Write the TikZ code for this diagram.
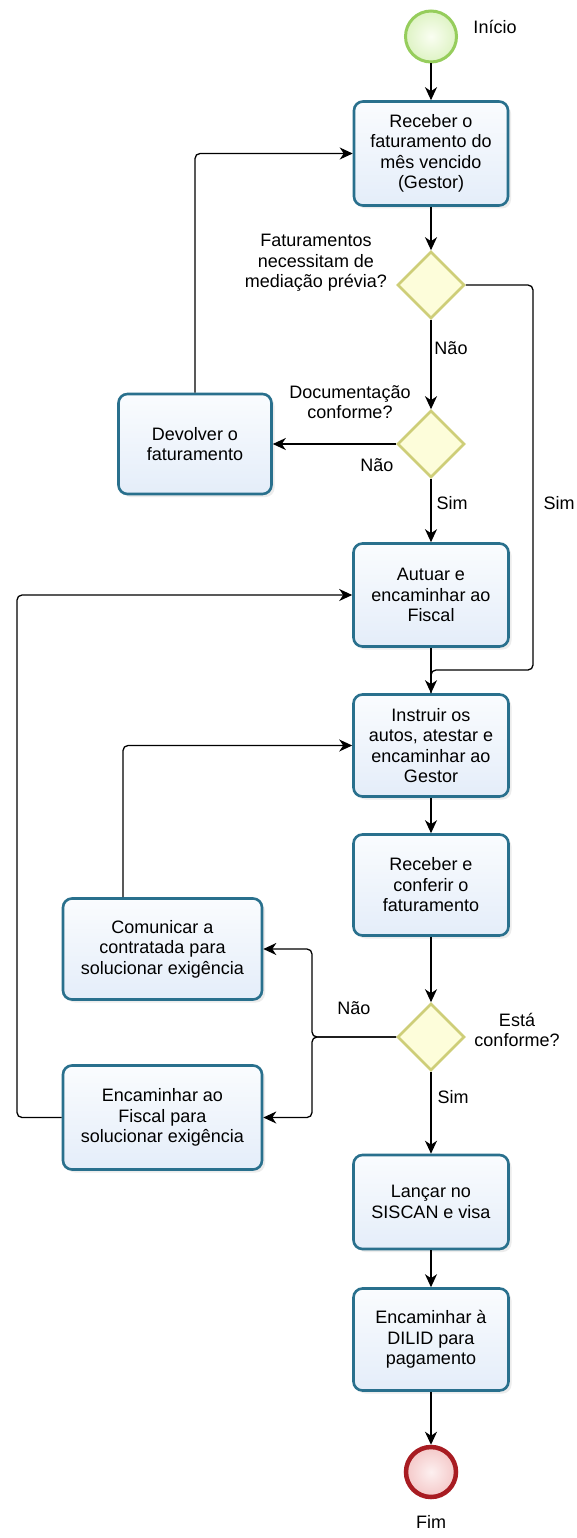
\documentclass[tikz,border=0pt]{standalone}
\usepackage{fontspec}
\setmainfont{Liberation Sans}
\usetikzlibrary{shapes.geometric,arrows.meta,shadows}
\definecolor{boxc}{RGB}{41,112,141}
\definecolor{boxtop}{RGB}{250,252,254}
\definecolor{boxbot}{RGB}{228,237,249}
\definecolor{gatec}{RGB}{206,206,120}
\definecolor{gatefill}{RGB}{253,253,218}
\definecolor{startc}{RGB}{150,205,92}
\definecolor{startin}{RGB}{250,254,242}
\definecolor{startout}{RGB}{222,243,196}
\definecolor{endc}{RGB}{168,28,34}
\definecolor{endin}{RGB}{253,240,240}
\definecolor{endout}{RGB}{244,200,200}
\newcommand\lbl{\fontsize{18}{20.5}\selectfont}
\begin{document}
\begin{tikzpicture}[x=1pt,y=-1pt,
  task/.style={rectangle, rounded corners=9pt, draw=boxc, line width=2.6pt,
    top color=boxtop, bottom color=boxbot, align=center, font=\lbl, inner sep=2pt,
    drop shadow={opacity=0.15, shadow xshift=3pt, shadow yshift=-3pt}},
  gate/.style={diamond, draw=gatec, line width=2.6pt, fill=gatefill,
    minimum width=67pt, minimum height=67pt, inner sep=0pt},
  conn/.style={line width=1.3pt, rounded corners=5pt},
  arr/.style={conn, -{Stealth[length=13pt,width=12pt,inset=4pt]}},
  lab/.style={font=\lbl, align=center, inner sep=0pt}]
\useasboundingbox (0,0) rectangle (576,1538);
\fill[white] (0,0) rectangle (576,1538);

% events
\node[circle, draw=startc, line width=3pt, inner color=startin, outer color=startout,
  minimum size=51pt, inner sep=0pt] (start) at (431,36.5) {};
\node[lab] (inicio) at (495,27) {Início};
\node[circle, draw=endc, line width=4.5pt, inner color=endin, outer color=endout,
  minimum size=50pt, inner sep=0pt] (end) at (431,1472) {};
\node[lab] (fim) at (431,1522) {Fim};

% tasks
\node[task, minimum width=154pt, minimum height=104pt] (b1) at (431,153.5)
  {Receber o\\faturamento do\\mês vencido\\(Gestor)};
\node[task, minimum width=153pt, minimum height=100pt] (dev) at (195,444)
  {Devolver o\\faturamento};
\node[task, minimum width=155pt, minimum height=103pt] (aut) at (431,595)
  {Autuar e\\encaminhar ao\\Fiscal};
\node[task, minimum width=155pt, minimum height=102pt] (ins) at (431,745.5)
  {Instruir os\\autos, atestar e\\encaminhar ao\\Gestor};
\node[task, minimum width=155pt, minimum height=101pt] (rec) at (431,885)
  {Receber e\\conferir o\\faturamento};
\node[task, minimum width=199pt, minimum height=101pt] (com) at (162.5,949)
  {Comunicar a\\contratada para\\solucionar exigência};
\node[task, minimum width=199pt, minimum height=104pt] (enc) at (162.5,1117.5)
  {Encaminhar ao\\Fiscal para\\solucionar exigência};
\node[task, minimum width=155pt, minimum height=94pt] (lan) at (431,1202)
  {Lançar no\\SISCAN e visa};
\node[task, minimum width=155pt, minimum height=102pt] (dil) at (431,1339.5)
  {Encaminhar à\\DILID para\\pagamento};

% gateways
\node[gate] (d1) at (431,285) {};
\node[gate] (d2) at (431,444) {};
\node[gate] (d3) at (431,1037) {};

% gateway questions and branch labels
\node[lab] (q1) at (316,263) {Faturamentos\\necessitam de\\mediação prévia?};
\node[lab] (q2) at (350,402) {Documentação\\conforme?};
\node[lab] (q3) at (517,1030) {Está\\conforme?};
\node[lab] (nao1) at (451,348) {Não};
\node[lab] (nao2) at (377,465) {Não};
\node[lab] (nao3) at (354,1008) {Não};
\node[lab] (sim1) at (452,503) {Sim};
\node[lab] (sim2) at (559,503) {Sim};
\node[lab] (sim3) at (453,1097) {Sim};

% helper coordinates
\coordinate (m1) at (533,670);
\coordinate (br) at (312,1037);
\coordinate (lo) at (17,800);

% connectors
\draw[arr] (start) -- (b1);
\draw[arr] (b1) -- (d1);
\draw[arr] (d1) -- (d2);
\draw[arr] (d2) -- (dev);
\draw[arr] (dev.north) |- (b1.west);
\draw[arr] (d2) -- (aut);
\draw[arr] (aut) -- (ins);
\draw[conn] (d1.east) -| (m1) -| (ins.north);
\draw[arr] (ins) -- (rec);
\draw[arr] (rec) -- (d3);
\draw[arr] (d3) -- (lan);
\draw[arr] (lan) -- (dil);
\draw[arr] (dil) -- (end);
\draw[arr] (d3.west) -- (br) |- (com.east);
\draw[arr] (d3.west) -- (br) |- (enc.east);
\draw[arr] (enc.west) -| (lo) |- (aut.west);
\draw[arr] ([xshift=-39.5pt]com.north) |- (ins.west);
\end{tikzpicture}
\end{document}
